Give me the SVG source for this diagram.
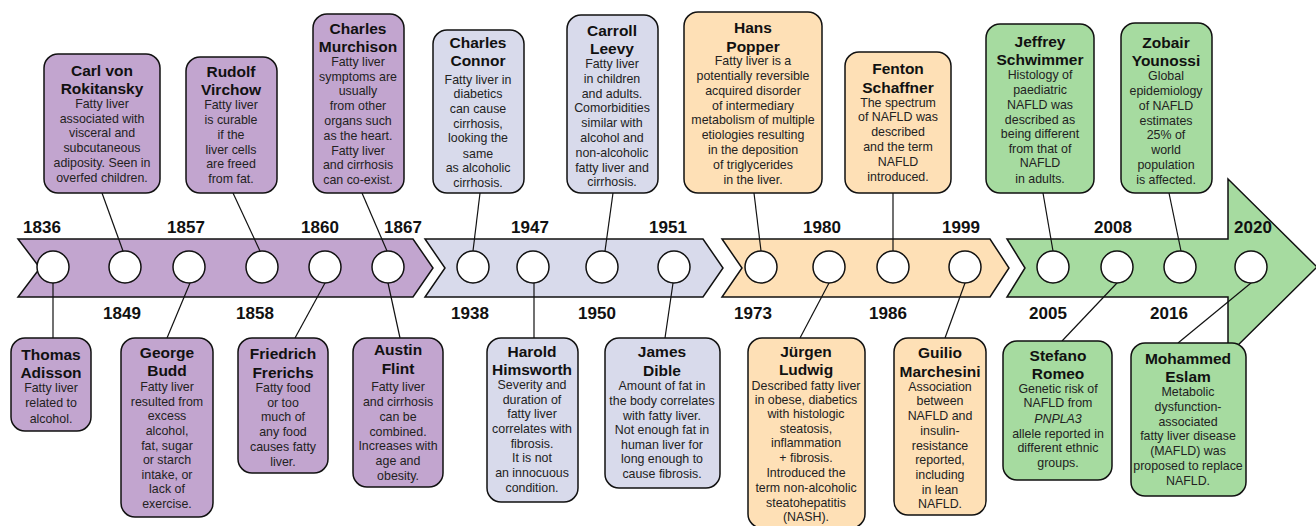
<svg xmlns="http://www.w3.org/2000/svg" width="1316" height="526" viewBox="0 0 1316 526">
<style>
text{font-family:"Liberation Sans",Arial,sans-serif;text-anchor:middle;dominant-baseline:central;fill:#111}
.t{font-size:15.5px;font-weight:bold}
.b{font-size:12.4px;fill:#222}
.y{font-size:17px;font-weight:bold}
.band{stroke:#111;stroke-width:1.5;stroke-linejoin:miter}
.dot{fill:#fff;stroke:#111;stroke-width:1.5}
.box{stroke:#111;stroke-width:1.5}
.p{fill:#c2a5cf}.l{fill:#d8daeb}.o{fill:#fee0b6}.g{fill:#a6dba0}
#connectors line{stroke:#111;stroke-width:1.2}
</style>
<rect width="1316" height="526" fill="#fff"/>
<g id="timeline">
<path class="band p" d="M18,239 L413,239 L433,268 L413,297 L18,297 L40,268 Z"/>
<path class="band l" d="M425,239 L703,239 L723,268 L703,297 L425,297 L445,268 Z"/>
<path class="band o" d="M722,239 L990,239 L1009,268 L990,297 L722,297 L742,268 Z"/>
<path class="band g" d="M1007,239 L1228,239 L1228,179 L1317,267 L1228,355 L1228,297 L1007,297 L1025,268 Z"/>
</g>
<g id="connectors">
<line x1="53" y1="283" x2="53" y2="338"/>
<line x1="102" y1="193" x2="123" y2="251"/>
<line x1="190" y1="283" x2="167" y2="338"/>
<line x1="233" y1="193" x2="260" y2="251"/>
<line x1="325" y1="283" x2="295" y2="338"/>
<line x1="362" y1="193" x2="387" y2="251"/>
<line x1="388" y1="283" x2="400" y2="338"/>
<line x1="480" y1="193" x2="473" y2="251"/>
<line x1="534" y1="283" x2="534" y2="338"/>
<line x1="613" y1="193" x2="605" y2="251"/>
<line x1="673" y1="283" x2="665" y2="338"/>
<line x1="754" y1="193" x2="761" y2="251"/>
<line x1="829" y1="283" x2="800" y2="338"/>
<line x1="893" y1="193" x2="893" y2="251"/>
<line x1="965" y1="283" x2="945" y2="338"/>
<line x1="1043" y1="193" x2="1053" y2="251"/>
<line x1="1117" y1="283" x2="1062" y2="341"/>
<line x1="1169" y1="193" x2="1181" y2="251"/>
<line x1="1251" y1="283" x2="1178" y2="343"/>
</g>
<g id="markers">
<circle class="dot" cx="53" cy="267" r="16"/>
<circle class="dot" cx="125" cy="267" r="16"/>
<circle class="dot" cx="189" cy="267" r="16"/>
<circle class="dot" cx="262" cy="267" r="16"/>
<circle class="dot" cx="325" cy="267" r="16"/>
<circle class="dot" cx="388" cy="267" r="16"/>
<circle class="dot" cx="473" cy="267" r="16"/>
<circle class="dot" cx="533" cy="267" r="16"/>
<circle class="dot" cx="602" cy="267" r="16"/>
<circle class="dot" cx="674" cy="267" r="16"/>
<circle class="dot" cx="761" cy="267" r="16"/>
<circle class="dot" cx="829" cy="267" r="16"/>
<circle class="dot" cx="893" cy="267" r="16"/>
<circle class="dot" cx="965" cy="267" r="16"/>
<circle class="dot" cx="1053" cy="267" r="16"/>
<circle class="dot" cx="1117" cy="267" r="16"/>
<circle class="dot" cx="1180" cy="267" r="16"/>
<circle class="dot" cx="1251" cy="267" r="16"/>
</g>
<g id="years">
<text class="y" x="42" y="227">1836</text>
<text class="y" x="186" y="227">1857</text>
<text class="y" x="320" y="227">1860</text>
<text class="y" x="403" y="227">1867</text>
<text class="y" x="530" y="227">1947</text>
<text class="y" x="668" y="227">1951</text>
<text class="y" x="822" y="227">1980</text>
<text class="y" x="961" y="227">1999</text>
<text class="y" x="1113" y="227">2008</text>
<text class="y" x="1253" y="227">2020</text>
<text class="y" x="122" y="313">1849</text>
<text class="y" x="255" y="313">1858</text>
<text class="y" x="470" y="313">1938</text>
<text class="y" x="597" y="313">1950</text>
<text class="y" x="753" y="313">1973</text>
<text class="y" x="888" y="313">1986</text>
<text class="y" x="1048" y="313">2005</text>
<text class="y" x="1169" y="313">2016</text>
</g>
<g id="rokitansky">
<rect class="box p" x="44" y="54" width="116" height="139" rx="14"/>
<text class="t" x="102" y="70">Carl von</text><text class="t" x="102" y="88">Rokitansky</text>
<text class="b" x="102" y="104">Fatty liver</text><text class="b" x="102" y="119">associated with</text><text class="b" x="102" y="133">visceral and</text><text class="b" x="102" y="148">subcutaneous</text><text class="b" x="102" y="163">adiposity. Seen in</text><text class="b" x="102" y="178">overfed children.</text>
</g>
<g id="virchow">
<rect class="box p" x="186" y="57" width="91" height="136" rx="14"/>
<text class="t" x="231" y="71">Rudolf</text><text class="t" x="231" y="89">Virchow</text>
<text class="b" x="231" y="105">Fatty liver</text><text class="b" x="231" y="120">is curable</text><text class="b" x="231" y="135">if the</text><text class="b" x="231" y="150">liver cells</text><text class="b" x="231" y="164">are freed</text><text class="b" x="231" y="179">from fat.</text>
</g>
<g id="murchison">
<rect class="box p" x="313" y="14" width="91" height="179" rx="14"/>
<text class="t" x="358" y="28">Charles</text><text class="t" x="358" y="46">Murchison</text>
<text class="b" x="358" y="62">Fatty liver</text><text class="b" x="358" y="77">symptoms are</text><text class="b" x="358" y="91">usually</text><text class="b" x="358" y="106">from other</text><text class="b" x="358" y="121">organs such</text><text class="b" x="358" y="136">as the heart.</text><text class="b" x="358" y="151">Fatty liver</text><text class="b" x="358" y="165">and cirrhosis</text><text class="b" x="358" y="180">can co-exist.</text>
</g>
<g id="connor">
<rect class="box l" x="433" y="30" width="91" height="163" rx="14"/>
<text class="t" x="478" y="42">Charles</text><text class="t" x="478" y="60">Connor</text>
<text class="b" x="478" y="80">Fatty liver in</text><text class="b" x="478" y="94">diabetics</text><text class="b" x="478" y="109">can cause</text><text class="b" x="478" y="124">cirrhosis,</text><text class="b" x="478" y="138">looking the</text><text class="b" x="478" y="154">same</text><text class="b" x="478" y="168">as alcoholic</text><text class="b" x="478" y="183">cirrhosis.</text>
</g>
<g id="leevy">
<rect class="box l" x="567" y="15" width="91" height="178" rx="14"/>
<text class="t" x="612" y="30">Carroll</text><text class="t" x="612" y="48">Leevy</text>
<text class="b" x="612" y="64">Fatty liver</text><text class="b" x="612" y="79">in children</text><text class="b" x="612" y="94">and adults.</text><text class="b" x="612" y="108">Comorbidities</text><text class="b" x="612" y="123">similar with</text><text class="b" x="612" y="138">alcohol and</text><text class="b" x="612" y="153">non-alcoholic</text><text class="b" x="612" y="168">fatty liver and</text><text class="b" x="612" y="182">cirrhosis.</text>
</g>
<g id="popper">
<rect class="box o" x="684" y="12" width="138" height="181" rx="14"/>
<text class="t" x="753" y="27">Hans</text><text class="t" x="753" y="46">Popper</text>
<text class="b" x="753" y="61">Fatty liver is a</text><text class="b" x="753" y="76">potentially reversible</text><text class="b" x="753" y="91">acquired disorder</text><text class="b" x="753" y="106">of intermediary</text><text class="b" x="753" y="120">metabolism of multiple</text><text class="b" x="753" y="135">etiologies resulting</text><text class="b" x="753" y="150">in the deposition</text><text class="b" x="753" y="165">of triglycerides</text><text class="b" x="753" y="180">in the liver.</text>
</g>
<g id="schaffner">
<rect class="box o" x="845" y="52" width="106" height="141" rx="14"/>
<text class="t" x="898" y="68">Fenton</text><text class="t" x="898" y="87">Schaffner</text>
<text class="b" x="898" y="103">The spectrum</text><text class="b" x="898" y="117">of NAFLD was</text><text class="b" x="898" y="132">described</text><text class="b" x="898" y="147">and the term</text><text class="b" x="898" y="162">NAFLD</text><text class="b" x="898" y="177">introduced.</text>
</g>
<g id="schwimmer">
<rect class="box g" x="986" y="24" width="108" height="169" rx="14"/>
<text class="t" x="1040" y="41">Jeffrey</text><text class="t" x="1040" y="59">Schwimmer</text>
<text class="b" x="1040" y="75">Histology of</text><text class="b" x="1040" y="90">paediatric</text><text class="b" x="1040" y="105">NAFLD was</text><text class="b" x="1040" y="120">described as</text><text class="b" x="1040" y="134">being different</text><text class="b" x="1040" y="149">from that of</text><text class="b" x="1040" y="163">NAFLD</text><text class="b" x="1040" y="179">in adults.</text>
</g>
<g id="younossi">
<rect class="box g" x="1121" y="23" width="91" height="170" rx="14"/>
<text class="t" x="1166" y="42">Zobair</text><text class="t" x="1166" y="60">Younossi</text>
<text class="b" x="1166" y="76">Global</text><text class="b" x="1166" y="91">epidemiology</text><text class="b" x="1166" y="106">of NAFLD</text><text class="b" x="1166" y="121">estimates</text><text class="b" x="1166" y="135">25% of</text><text class="b" x="1166" y="150">world</text><text class="b" x="1166" y="165">population</text><text class="b" x="1166" y="180">is affected.</text>
</g>
<g id="adisson">
<rect class="box p" x="11" y="338" width="80" height="93" rx="14"/>
<text class="t" x="51" y="354">Thomas</text><text class="t" x="51" y="372">Adisson</text>
<text class="b" x="51" y="388">Fatty liver</text><text class="b" x="51" y="403">related to</text><text class="b" x="51" y="419">alcohol.</text>
</g>
<g id="budd">
<rect class="box p" x="121" y="338" width="92" height="179" rx="14"/>
<text class="t" x="167" y="352">George</text><text class="t" x="167" y="370">Budd</text>
<text class="b" x="167" y="387">Fatty liver</text><text class="b" x="167" y="402">resulted from</text><text class="b" x="167" y="416">excess</text><text class="b" x="167" y="431">alcohol,</text><text class="b" x="167" y="446">fat, sugar</text><text class="b" x="167" y="460">or starch</text><text class="b" x="167" y="475">intake, or</text><text class="b" x="167" y="489">lack of</text><text class="b" x="167" y="504">exercise.</text>
</g>
<g id="frerichs">
<rect class="box p" x="238" y="338" width="90" height="135" rx="14"/>
<text class="t" x="283" y="353">Friedrich</text><text class="t" x="283" y="372">Frerichs</text>
<text class="b" x="283" y="388">Fatty food</text><text class="b" x="283" y="403">or too</text><text class="b" x="283" y="417">much of</text><text class="b" x="283" y="432">any food</text><text class="b" x="283" y="447">causes fatty</text><text class="b" x="283" y="462">liver.</text>
</g>
<g id="flint">
<rect class="box p" x="353" y="338" width="90" height="149" rx="14"/>
<text class="t" x="398" y="349">Austin</text><text class="t" x="398" y="368">Flint</text>
<text class="b" x="398" y="387">Fatty liver</text><text class="b" x="398" y="402">and cirrhosis</text><text class="b" x="398" y="417">can be</text><text class="b" x="398" y="432">combined.</text><text class="b" x="398" y="446">Increases with</text><text class="b" x="398" y="461">age and</text><text class="b" x="398" y="476">obesity.</text>
</g>
<g id="himsworth">
<rect class="box l" x="487" y="338" width="91" height="164" rx="14"/>
<text class="t" x="532" y="351">Harold</text><text class="t" x="532" y="369">Himsworth</text>
<text class="b" x="532" y="385">Severity and</text><text class="b" x="532" y="400">duration of</text><text class="b" x="532" y="414">fatty liver</text><text class="b" x="532" y="429">correlates with</text><text class="b" x="532" y="444">fibrosis.</text><text class="b" x="532" y="458">It is not</text><text class="b" x="532" y="473">an innocuous</text><text class="b" x="532" y="488">condition.</text>
</g>
<g id="dible">
<rect class="box l" x="605" y="338" width="115" height="150" rx="14"/>
<text class="t" x="662" y="351">James</text><text class="t" x="662" y="370">Dible</text>
<text class="b" x="662" y="386">Amount of fat in</text><text class="b" x="662" y="401">the body correlates</text><text class="b" x="662" y="416">with fatty liver.</text><text class="b" x="662" y="430">Not enough fat in</text><text class="b" x="662" y="445">human liver for</text><text class="b" x="662" y="459">long enough to</text><text class="b" x="662" y="474">cause fibrosis.</text>
</g>
<g id="ludwig">
<rect class="box o" x="748" y="338" width="117" height="190" rx="14"/>
<text class="t" x="806" y="351">Jürgen</text><text class="t" x="806" y="369">Ludwig</text>
<text class="b" x="806" y="386">Described fatty liver</text><text class="b" x="806" y="400">in obese, diabetics</text><text class="b" x="806" y="414">with histologic</text><text class="b" x="806" y="429">steatosis,</text><text class="b" x="806" y="443">inflammation</text><text class="b" x="806" y="458">+ fibrosis.</text><text class="b" x="806" y="473">Introduced the</text><text class="b" x="806" y="488">term non-alcoholic</text><text class="b" x="806" y="503">steatohepatitis</text><text class="b" x="806" y="517">(NASH).</text>
</g>
<g id="marchesini">
<rect class="box o" x="894" y="338" width="92" height="177" rx="14"/>
<text class="t" x="940" y="352">Guilio</text><text class="t" x="940" y="371">Marchesini</text>
<text class="b" x="940" y="387">Association</text><text class="b" x="940" y="401">between</text><text class="b" x="940" y="416">NAFLD and</text><text class="b" x="940" y="431">insulin-</text><text class="b" x="940" y="446">resistance</text><text class="b" x="940" y="460">reported,</text><text class="b" x="940" y="475">including</text><text class="b" x="940" y="490">in lean</text><text class="b" x="940" y="504">NAFLD.</text>
</g>
<g id="romeo">
<rect class="box g" x="1003" y="341" width="109" height="139" rx="14"/>
<text class="t" x="1058" y="355">Stefano</text><text class="t" x="1058" y="373">Romeo</text>
<text class="b" x="1058" y="389">Genetic risk of</text><text class="b" x="1058" y="403">NAFLD from</text><text class="b" x="1058" y="419" font-style="italic">PNPLA3</text><text class="b" x="1058" y="434">allele reported in</text><text class="b" x="1058" y="448">different ethnic</text><text class="b" x="1058" y="463">groups.</text>
</g>
<g id="eslam">
<rect class="box g" x="1131" y="343" width="115" height="153" rx="14"/>
<text class="t" x="1188" y="358">Mohammed</text><text class="t" x="1188" y="376">Eslam</text>
<text class="b" x="1188" y="392">Metabolic</text><text class="b" x="1188" y="407">dysfunction-</text><text class="b" x="1188" y="422">associated</text><text class="b" x="1188" y="436">fatty liver disease</text><text class="b" x="1188" y="451">(MAFLD) was</text><text class="b" x="1188" y="466">proposed to replace</text><text class="b" x="1188" y="481">NAFLD.</text>
</g>
</svg>
